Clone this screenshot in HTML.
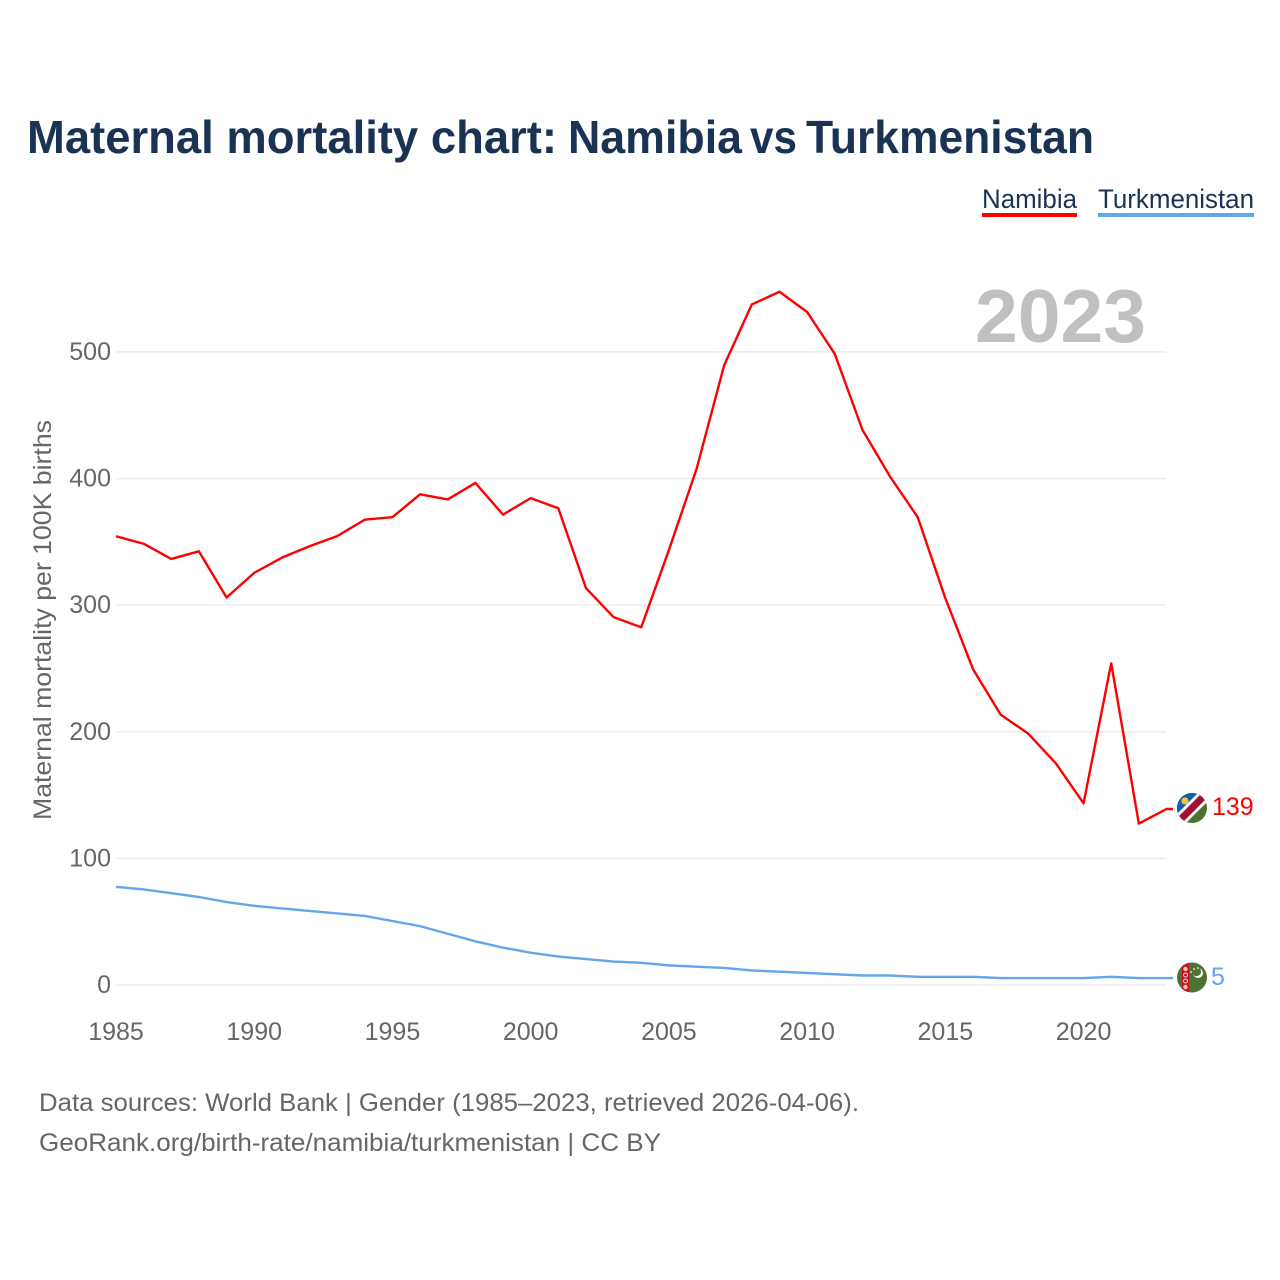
<!DOCTYPE html>
<html lang="en">
<head>
<meta charset="utf-8">
<title>Maternal mortality chart: Namibia vs Turkmenistan</title>
<style>
html,body{margin:0;padding:0;background:#fff;width:1280px;height:1280px;overflow:hidden}
svg{display:block}
text{font-family:"Liberation Sans",sans-serif}
</style>
</head>
<body>
<svg id="chart" xmlns="http://www.w3.org/2000/svg" width="1280" height="1280" viewBox="0 0 1280 1280">
  <defs>
    <clipPath id="clip-na"><circle cx="1192" cy="808" r="15"/></clipPath>
    <clipPath id="clip-tm"><circle cx="1192" cy="977.5" r="15"/></clipPath>
  </defs>
  <rect width="1280" height="1280" fill="#fff"/>
  <text y="153" font-size="46" font-weight="700" fill="#1a3354"><tspan x="27" textLength="530" lengthAdjust="spacingAndGlyphs">Maternal mortality chart:</tspan> <tspan x="568" textLength="174" lengthAdjust="spacingAndGlyphs">Namibia</tspan> <tspan x="750" textLength="47" lengthAdjust="spacingAndGlyphs">vs</tspan> <tspan x="806" textLength="288" lengthAdjust="spacingAndGlyphs">Turkmenistan</tspan></text>

  <g>
    <text x="982" y="208" font-size="27" fill="#1a3354" textLength="95" lengthAdjust="spacingAndGlyphs">Namibia</text>
    <rect x="982" y="213" width="95" height="4" fill="#ff0000"/>
  </g>
  <g>
    <text x="1098" y="208" font-size="27" fill="#1a3354" textLength="156" lengthAdjust="spacingAndGlyphs">Turkmenistan</text>
    <rect x="1098" y="213" width="156" height="4" fill="#63a6ec"/>
  </g>

  <g id="grid"></g>
  <g id="yticks"></g>
  <g id="xticks"></g>

  <text x="975" y="342" font-size="75" font-weight="700" fill="#c0c0c0" textLength="171" lengthAdjust="spacingAndGlyphs">2023</text>
  <text transform="translate(51,820) rotate(-90)" x="0" y="0" font-size="25" fill="#666666" textLength="400" lengthAdjust="spacingAndGlyphs">Maternal mortality per 100K births</text>

  <g id="series"></g>

  <g clip-path="url(#clip-na)">
    <rect x="1176" y="792" width="32" height="32" fill="#4d7330"/>
    <polygon points="1176,792 1208,792 1176,824" fill="#0f62b4"/>
    <polygon points="1172,819 1202,789 1211,798 1181,828" fill="#fff"/>
    <polygon points="1174,821 1204,791 1209,796 1179,826" fill="#a50f2d"/>
    <circle cx="1185" cy="801" r="3.6" fill="#f5c542"/>
  </g>
  <g clip-path="url(#clip-tm)">
    <rect x="1176" y="962" width="32" height="32" fill="#4d7330"/>
    <rect x="1182" y="962" width="7" height="32" fill="#c8102e"/>
    <circle cx="1185.5" cy="969" r="2.2" fill="#f4c9a0"/>
    <circle cx="1185.5" cy="975" r="2" fill="none" stroke="#e8e0c8" stroke-width="1"/>
    <circle cx="1185.5" cy="981" r="2" fill="none" stroke="#e8e0c8" stroke-width="1"/>
    <circle cx="1185.5" cy="987" r="2.2" fill="#f4c9a0"/>
    <circle cx="1198" cy="973" r="5" fill="#fff"/>
    <circle cx="1196.5" cy="971.5" r="4.6" fill="#4d7330"/>
    <circle cx="1191" cy="972" r=".9" fill="#fff"/>
    <circle cx="1194" cy="969" r=".9" fill="#fff"/>
    <circle cx="1198" cy="968" r=".9" fill="#fff"/>
  </g>

  <text x="39" y="1111" font-size="25" fill="#666666" textLength="820" lengthAdjust="spacingAndGlyphs">Data sources: World Bank | Gender (1985–2023, retrieved 2026-04-06).</text>
  <text x="39" y="1151" font-size="25" fill="#666666" textLength="622" lengthAdjust="spacingAndGlyphs">GeoRank.org/birth-rate/namibia/turkmenistan | CC BY</text>
</svg>
<script>
const years = [1985,1986,1987,1988,1989,1990,1991,1992,1993,1994,1995,1996,1997,1998,1999,2000,2001,2002,2003,2004,2005,2006,2007,2008,2009,2010,2011,2012,2013,2014,2015,2016,2017,2018,2019,2020,2021,2022,2023];
const namibia = [354.4,348.5,336.5,342.5,306,325.5,337.5,346.5,354.5,367.5,369.5,387.5,383.5,396.5,371.5,384.5,376.5,313.5,290.5,282.5,343.5,407.5,489.5,537.5,547.5,531.5,498.5,438.5,401.5,369.5,305.5,249.5,213.5,198.5,175,143.5,254,127.5,139];
const turkmenistan = [77.5,75.5,72.5,69.5,65.5,62.5,60.5,58.5,56.5,54.5,50.5,46.5,40.5,34.5,29.5,25.5,22.5,20.5,18.5,17.5,15.5,14.5,13.5,11.5,10.5,9.5,8.5,7.5,7.5,6.5,6.5,6.5,5.5,5.5,5.5,5.5,6.5,5.5,5.5];
const yTickValues = [0,100,200,300,400,500];
const xTickValues = [1985,1990,1995,2000,2005,2010,2015,2020];

const NS = 'http://www.w3.org/2000/svg';
function xScale(year){ return 116 + (year - 1985) * (1166.5 - 116) / 38; }
function yScale(v){ return 985 - v * 1.2662; }
function make(tag, attrs, parent, content){
  const el = document.createElementNS(NS, tag);
  for (const k in attrs) el.setAttribute(k, attrs[k]);
  if (content !== undefined) el.textContent = content;
  parent.appendChild(el);
  return el;
}

const grid = document.getElementById('grid');
const yticks = document.getElementById('yticks');
const xticks = document.getElementById('xticks');
const seriesGroup = document.getElementById('series');

yTickValues.forEach(function(v){
  const line = make('line', {x1:116, x2:1166, y1:yScale(v), y2:yScale(v), stroke:'#ebebeb', 'stroke-width':1.5}, grid);
  
  
  const label = make('text', {x:111, y:yScale(v) + 8, 'text-anchor':'end', 'font-size':25, fill:'#666666'}, yticks, String(v));
  
  
});

xTickValues.forEach(function(year){
  const label = make('text', {x:xScale(year), y:1040, 'text-anchor':'middle', 'font-size':25, fill:'#666666'}, xticks, String(year));
  
  
});

function drawSeries(name, values, color, labelText, labelX, labelDy){
  const pts = values.map(function(v, i){ return xScale(years[i]).toFixed(2) + ',' + yScale(v).toFixed(2); });
  const last = values[values.length - 1];
  const endY = yScale(last);
  pts.push('1173,' + endY.toFixed(2));
  const line = make('polyline', {points:pts.join(' '), fill:'none', stroke:color, 'stroke-width':2.4, 'stroke-linejoin':'round'}, seriesGroup);
  
  
  const label = make('text', {x:labelX, y:endY + labelDy, 'font-size':25, fill:color}, seriesGroup, labelText);
  
  
}

drawSeries('namibia', namibia, '#ff0000', '139', 1212, 6);
drawSeries('turkmenistan', turkmenistan, '#63a6ec', '5', 1211, 7);
</script>
</body>
</html>
